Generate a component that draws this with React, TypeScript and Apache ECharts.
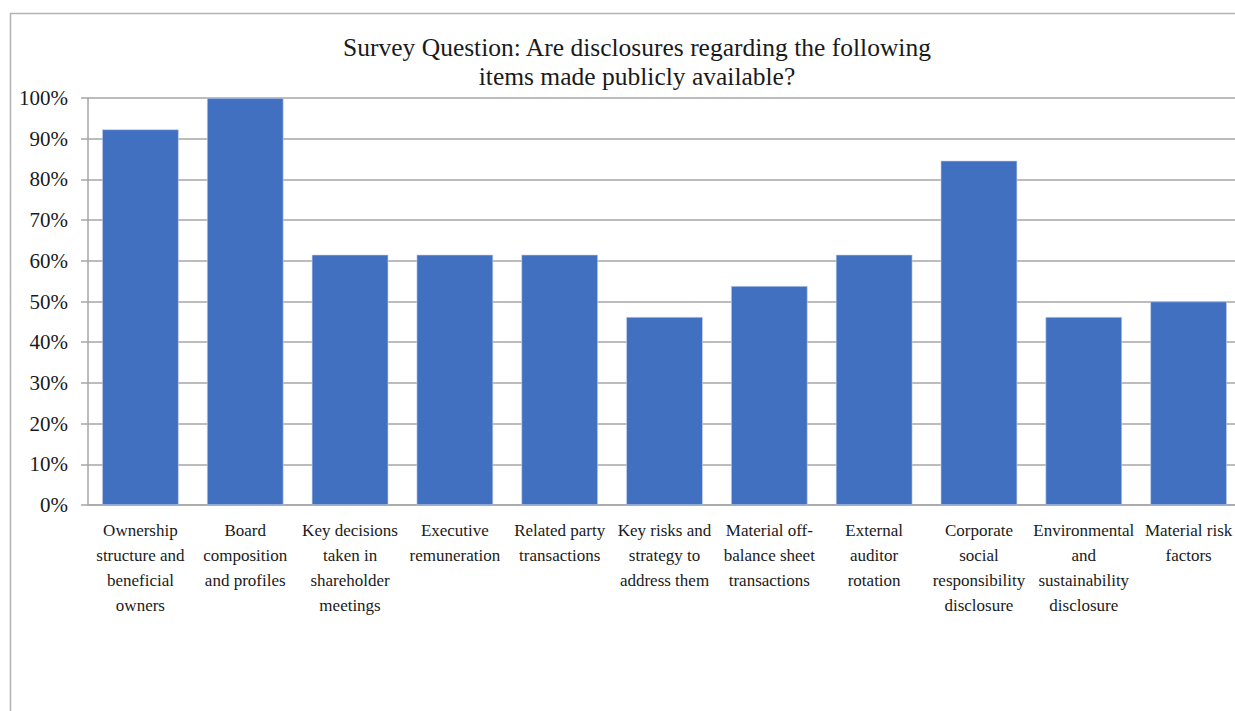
import React, { useEffect, useRef } from "react";
import * as echarts from "echarts";

// Survey items (line breaks as shown under each bar)
const categories: string[] = [
  "Ownership\nstructure and\nbeneficial\nowners",
  "Board\ncomposition\nand profiles",
  "Key decisions\ntaken in\nshareholder\nmeetings",
  "Executive\nremuneration",
  "Related party\ntransactions",
  "Key risks and\nstrategy to\naddress them",
  "Material off-\nbalance sheet\ntransactions",
  "External\nauditor\nrotation",
  "Corporate\nsocial\nresponsibility\ndisclosure",
  "Environmental\nand\nsustainability\ndisclosure",
  "Material risk\nfactors",
];

// Share of respondents answering "yes" (%)
const yesShare: number[] = [92.3, 100, 61.5, 61.5, 61.5, 46.2, 53.8, 61.5, 84.6, 46.2, 50];

const titleLines: string[] = [
  "Survey Question: Are disclosures regarding the following",
  "items made publicly available?",
];

const FONT = "'Liberation Serif', 'DejaVu Serif', serif";
const GRID_COLOR = "#a6a6a6";
const FRAME_COLOR = "#b3b3b3";
const BAR_COLOR = "#4270c0";

export default function App() {
  const ref = useRef<HTMLDivElement>(null);

  useEffect(() => {
    if (!ref.current) return;
    const chart = echarts.init(ref.current, null, { renderer: "svg" });
    chart.setOption({
      animation: false,
      backgroundColor: "#ffffff",
      title: {
        text: titleLines.join("\n"),
        left: 632,
        top: 28,
        textAlign: "center",
        textStyle: {
          fontFamily: FONT,
          fontSize: 25.5,
          fontWeight: "normal",
          color: "#1a1a1a",
          lineHeight: 29,
        },
      },
      graphic: [
        // chart frame: left and top edges (the rest runs off the page)
        {
          type: "polyline",
          shape: {
            points: [
              [10.5, 711],
              [10.5, 13.5],
              [1300, 13.5],
            ],
          },
          style: { stroke: FRAME_COLOR, lineWidth: 1.5, fill: "none" },
          silent: true,
        },
      ],
      grid: {
        left: 88,
        top: 98,
        width: 1153,
        height: 407,
        containLabel: false,
        outerBoundsMode: "none",
      },
      xAxis: {
        type: "category",
        data: categories,
        boundaryGap: true,
        axisLine: { lineStyle: { color: GRID_COLOR, width: 1.5 } },
        axisTick: {
          alignWithLabel: true,
          length: 6,
          lineStyle: { color: GRID_COLOR, width: 1.5 },
        },
        axisLabel: {
          interval: 0,
          margin: 13,
          fontFamily: FONT,
          fontSize: 17,
          lineHeight: 25,
          color: "#1a1a1a",
          align: "center",
        },
      },
      yAxis: {
        type: "value",
        min: 0,
        max: 100,
        interval: 10,
        axisLine: { show: true, lineStyle: { color: GRID_COLOR, width: 1.5 } },
        axisTick: { show: true, length: 7, lineStyle: { color: GRID_COLOR, width: 1.5 } },
        splitLine: { lineStyle: { color: GRID_COLOR, width: 1.5 } },
        axisLabel: {
          margin: 20,
          formatter: "{value}%",
          fontFamily: FONT,
          fontSize: 21,
          color: "#1a1a1a",
        },
      },
      series: [
        {
          type: "bar",
          data: yesShare,
          barCategoryGap: "27%",
          itemStyle: { color: BAR_COLOR, borderColor: "#c9d5ee", borderWidth: 0.6 },
        },
      ],
    });
    return () => chart.dispose();
  }, []);

  return (
    <div
      ref={ref}
      style={{ position: "fixed", left: 0, top: 0, width: 1235, height: 711 }}
    />
  );
}
